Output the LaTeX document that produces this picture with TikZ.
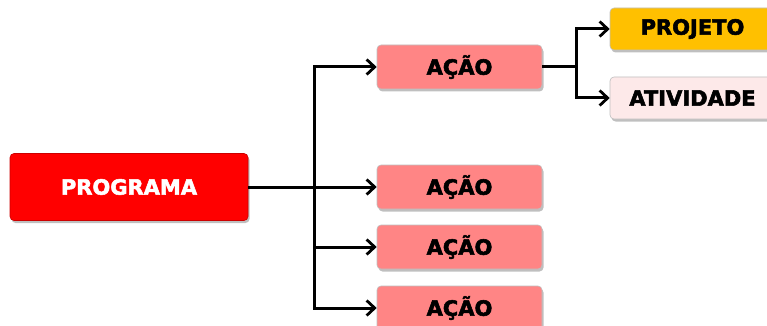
\documentclass[tikz,border=0pt]{standalone}
\usepackage{fontspec}
\setmainfont{DejaVu Sans}[BoldFeatures={FakeBold=2.5}]
\usetikzlibrary{positioning,arrows.meta,shadows}
\definecolor{progred}{HTML}{FF0000}
\definecolor{acaopink}{HTML}{FF8585}
\definecolor{projgold}{HTML}{FFC000}
\definecolor{ativpale}{HTML}{FDE9E9}

\begin{document}
\begin{tikzpicture}[x=1pt, y=-1pt,
    box/.style={rounded corners=4pt, minimum height=44pt, minimum width=165pt,
      font=\fontsize{21}{24}\selectfont\bfseries, draw=black!25, line width=0.6pt,
      drop shadow={shadow xshift=1.5pt, shadow yshift=-2.5pt, opacity=0.5}},
    link/.style={line width=3pt, -{Straight Barb[length=8pt, width=15pt, line width=2.8pt]}},
    plain/.style={line width=3pt}]
  \useasboundingbox (0,0) rectangle (767,326);

  \node[box, fill=progred, text=white, draw=red!80!black, minimum width=238pt,
        minimum height=67pt] (prog) at (129,187) {PROGRAMA};

  \node[box, fill=acaopink] (acao1) at (459.5,67) {AÇÃO};
  \node[box, fill=acaopink] (acao2) at (459.5,187) {AÇÃO};
  \node[box, fill=acaopink] (acao3) at (459.5,247) {AÇÃO};
  \node[box, fill=acaopink] (acao4) at (459.5,308) {AÇÃO};

  \node[box, fill=projgold, minimum height=42pt] (proj) at (692.5,29) {PROJETO};
  \node[box, fill=ativpale, minimum height=42pt] (ativ) at (692.5,98) {ATIVIDADE};

  % programa -> acoes
  \coordinate (j1) at (314,187);
  \draw[plain] (prog.east) -- (j1);
  \draw[link] (j1) -- (acao2.west);
  \draw[link] (j1) |- (acao1.west);
  \draw[link] (j1) |- (acao3.west);
  \draw[link] (j1) |- (acao4.west);

  % acao -> projeto / atividade
  \coordinate (j2) at (576,67);
  \draw[plain] (acao1.east) -- (j2);
  \draw[link] (j2) |- (proj.west);
  \draw[link] (j2) |- (ativ.west);
\end{tikzpicture}
\end{document}
